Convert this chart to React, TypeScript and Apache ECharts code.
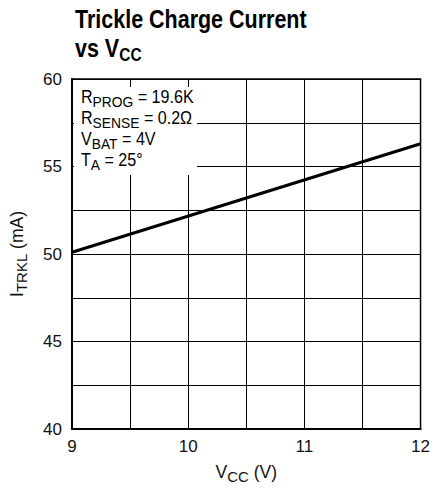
import React, { useEffect, useRef } from "react";
import * as echarts from "echarts";

const xValues: number[] = [9, 12];
const currentValues: number[] = [50.1, 56.3];
const xTicks = { min: 9, max: 12, interval: 0.5 };
const yTicks = { min: 40, max: 60, interval: 2.5 };
const titleText = "{t|Trickle Charge Current}\n{t|vs V}{s|CC}";
const annotationText = [
  "{m|R}{s|PROG}{m| = 19.6K}",
  "{m|R}{s|SENSE}{m| = 0.2Ω}",
  "{m|V}{s|BAT}{m| = 4V}",
  "{m|T}{s|A}{m| = 25°}",
].join("\n");
const xName = "{m|V}{s|CC}{m| (V)}";
const yName = "{m|I}{s|TRKL}{m| (mA)}";

const FONT = "'Liberation Sans', Arial, Helvetica, sans-serif";
const INK = "#111";

const labelRich = () => ({
  m: { fontFamily: FONT, fontSize: 17.5, color: INK, lineHeight: 21, verticalAlign: "top" },
  s: { fontFamily: FONT, fontSize: 15, color: INK, lineHeight: 21, verticalAlign: "bottom" },
});

export default function App() {
  const ref = useRef<HTMLDivElement>(null);
  useEffect(() => {
    document.body.style.margin = "0";
    if (!ref.current) return;
    const chart = echarts.init(ref.current, undefined, { renderer: "svg" });
    chart.setOption({
      animation: false,
      grid: {
        left: 70,
        top: 79,
        right: 11,
        bottom: 59,
        show: true,
        borderColor: "#000",
        borderWidth: 1.5,
        containLabel: false,
      },
      xAxis: {
        type: "value",
        min: xTicks.min,
        max: xTicks.max,
        interval: xTicks.interval,
        axisLine: { show: true, lineStyle: { color: "#000", width: 2 } },
        axisTick: { show: false },
        splitLine: { show: true, lineStyle: { color: "#000", width: 1 } },
        axisLabel: {
          margin: 9,
          fontFamily: FONT,
          fontSize: 17,
          color: INK,
          formatter: (v: number) => (Number.isInteger(v) ? String(v) : ""),
        },
        name: xName,
        nameLocation: "middle",
        nameGap: 34,
        nameTextStyle: { rich: labelRich() },
      },
      yAxis: {
        type: "value",
        min: yTicks.min,
        max: yTicks.max,
        interval: yTicks.interval,
        axisLine: { show: true, lineStyle: { color: "#000", width: 2 } },
        axisTick: { show: false },
        splitLine: { show: true, lineStyle: { color: "#000", width: 1 } },
        axisLabel: {
          margin: 10,
          fontFamily: FONT,
          fontSize: 17,
          color: INK,
          padding: [5, 0, 0, 0],
          formatter: (v: number) => (v % 5 === 0 ? String(v) : ""),
        },
        name: yName,
        nameLocation: "middle",
        nameRotate: 90,
        nameGap: 43,
        nameTextStyle: { rich: labelRich() },
      },
      graphic: [
        {
          type: "text",
          x: 75,
          y: 6.5,
          scaleX: 0.86,
          z: 102,
          style: {
            text: titleText,
            align: "left",
            verticalAlign: "top",
            rich: {
              t: {
                fontFamily: FONT,
                fontWeight: "bold",
                fontSize: 25,
                color: INK,
                lineHeight: 29,
                verticalAlign: "top",
              },
              s: {
                fontFamily: FONT,
                fontWeight: "bold",
                fontSize: 18,
                color: INK,
                lineHeight: 18,
                verticalAlign: "bottom",
                padding: [14, 0, 0, 0],
              },
            },
          },
        },
        {
          type: "rect",
          shape: { x: 74, y: 87, width: 123, height: 88 },
          style: { fill: "#fff" },
          z: 100,
        },
        {
          type: "text",
          x: 81,
          y: 88,
          scaleX: 0.92,
          z: 101,
          style: {
            text: annotationText,
            align: "left",
            verticalAlign: "top",
            rich: labelRich(),
          },
        },
      ],
      series: [
        {
          type: "line",
          data: xValues.map((x, i) => [x, currentValues[i]]),
          showSymbol: false,
          lineStyle: { color: "#000", width: 3 },
          z: 50,
        },
      ],
    });
    return () => chart.dispose();
  }, []);
  return <div ref={ref} style={{ width: 433, height: 489 }} />;
}
